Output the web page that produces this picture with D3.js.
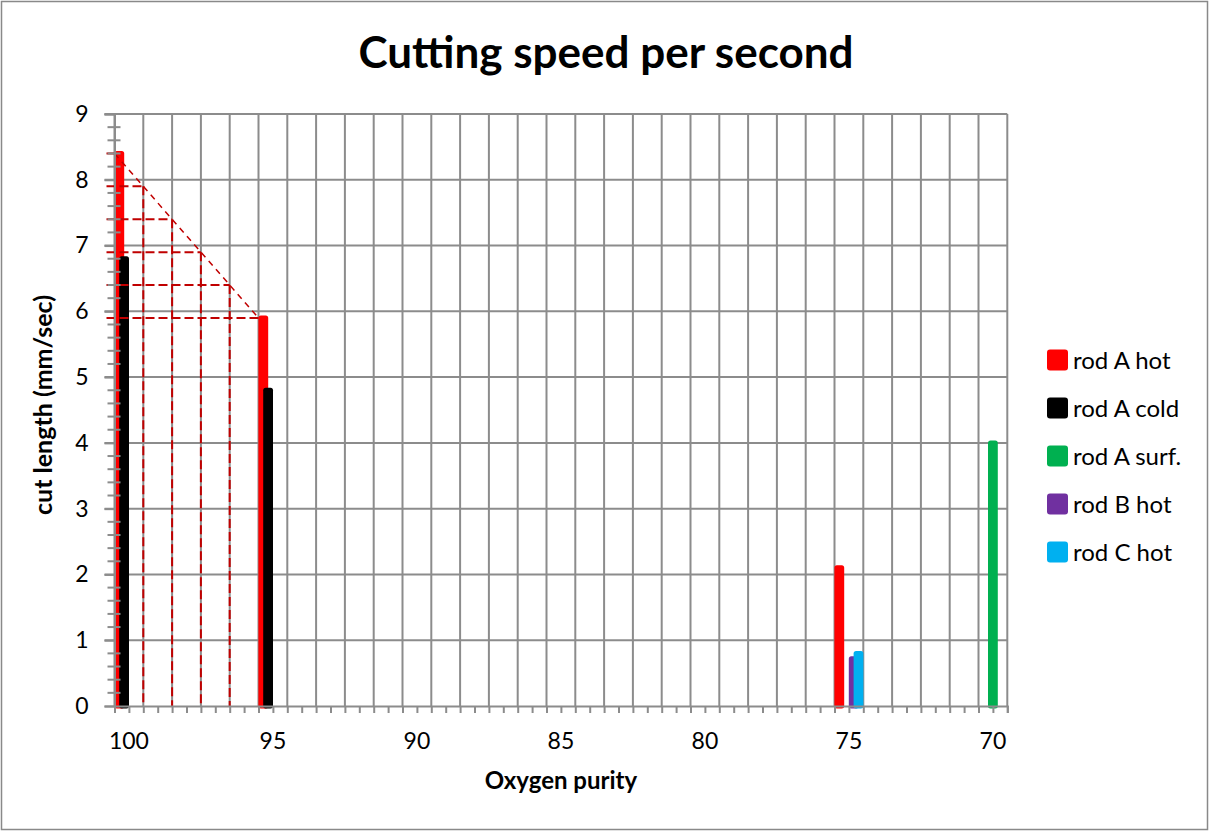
<!DOCTYPE html>
<html>
<head>
<meta charset="utf-8">
<script src="https://cdn.jsdelivr.net/npm/d3@7"></script>
<style>
  html, body { margin: 0; padding: 0; background: #fff; }
  svg { display: block; font-family: Lato, "Open Sans", sans-serif; }
</style>
</head>
<body>
<svg id="chart" width="1210" height="832"></svg>
<script>
// ---------------- data ----------------
const categories = d3.range(100, 69, -1);           // 100, 99, ... 70 (category axis, reversed)
const categoryLabels = [100, 95, 90, 85, 80, 75, 70];
const seriesNames = ["rod A hot", "rod A cold", "rod A surf.", "rod B hot", "rod C hot"];
const seriesColors = ["#FF0000", "#000000", "#00B050", "#7030A0", "#00B0F0"];
const rodAHot  = [{cat: 100, v: 8.4}, {cat: 95, v: 5.9}, {cat: 75, v: 2.1}];
const rodACold = [{cat: 100, v: 6.8}, {cat: 95, v: 4.8}];
const rodASurf = [{cat: 70, v: 4.0}];
const rodBHot  = [{cat: 75, v: 0.72}];
const rodCHot  = [{cat: 75, v: 0.8}];
const seriesValues = [rodAHot, rodACold, rodASurf, rodBHot, rodCHot];
// dashed construction lines (purity vs cut length)
const guideX = [100, 99, 98, 97, 96, 95];
const guideY = [8.4, 7.9, 7.4, 6.9, 6.4, 5.9];
const yTicks = [0, 1, 2, 3, 4, 5, 6, 7, 8, 9];

// ---------------- layout ----------------
const svg = d3.select("#chart");
const X0 = 114.5, X1 = 1007.3, Y0 = 706, Y1 = 114;
const gridColor = "#8C8C8C";

svg.append("rect").attr("x", 1.5).attr("y", 1.5).attr("width", 1206).attr("height", 828)
  .attr("fill", "#fff").attr("stroke", "#898989").attr("stroke-width", 1.5);

const xLin = d3.scaleLinear().domain([100, 69]).range([X0, X1]);
const xBand = d3.scaleBand().domain(categories).range([X0, X1]).paddingInner(0).paddingOuter(0);
const xSub = d3.scaleBand().domain(seriesNames).range([0, xBand.bandwidth()]).paddingInner(0).paddingOuter(0.5);
const y = d3.scaleLinear().domain([0, 9]).range([Y0, Y1]);

// gridlines
const grid = svg.append("g").attr("stroke", gridColor).attr("stroke-width", 2);
grid.selectAll("line.h").data(yTicks.slice(1)).join("line").attr("class", "h")
  .attr("x1", X0 - 10).attr("x2", X1).attr("y1", d => y(d)).attr("y2", d => y(d));
grid.selectAll("line.v").data(d3.range(100, 68.5, -1)).join("line").attr("class", "v")
  .attr("x1", d => xLin(d)).attr("x2", d => xLin(d)).attr("y1", Y1).attr("y2", Y0);

// bars
seriesValues.forEach((vals, i) => {
  const name = seriesNames[i], col = seriesColors[i];
  svg.append("g").selectAll("rect").data(vals).join("rect")
    .attr("x", d => xBand(d.cat) + xSub(name))
    .attr("width", xSub.bandwidth())
    .attr("y", d => y(d.v))
    .attr("height", d => y(0) - y(d.v))
    .attr("fill", col).attr("stroke", col).attr("stroke-width", 5)
    .attr("stroke-linejoin", "round");
});

// dashed construction lines
const gPts = guideX.map((x, i) => ({x, y: guideY[i]}));
const guide = svg.append("g").attr("stroke", "#C00000").attr("fill", "none");
guide.append("path")
  .attr("d", d3.line().x(d => xLin(d.x)).y(d => y(d.y))(gPts))
  .attr("stroke-width", 1.5).attr("stroke-dasharray", "6,5");
guide.selectAll("line.gh").data(gPts).join("line").attr("class", "gh")
  .attr("x1", X0 - 8).attr("x2", d => xLin(d.x)).attr("y1", d => y(d.y)).attr("y2", d => y(d.y))
  .attr("stroke-width", 2).attr("stroke-dasharray", "9,4");
guide.selectAll("line.gv").data(gPts.filter(d => d.x < 100 && d.x > 95)).join("line").attr("class", "gv")
  .attr("x1", d => xLin(d.x)).attr("x2", d => xLin(d.x)).attr("y1", d => y(d.y)).attr("y2", y(0))
  .attr("stroke-width", 2).attr("stroke-dasharray", "9,4");

// y axis
const yAxis = svg.append("g").attr("transform", `translate(${X0},0)`)
  .call(d3.axisLeft(y).tickValues(yTicks).tickSize(10).tickPadding(16).tickFormat(d3.format("d")));
yAxis.select(".domain").attr("stroke", gridColor).attr("stroke-width", 2);
yAxis.selectAll(".tick line").attr("stroke", gridColor).attr("stroke-width", 2);
yAxis.selectAll(".tick text").attr("font-size", 23).attr("fill", "#000")
  .attr("font-family", "Lato, sans-serif");
// minor y ticks (crossing)
svg.append("g").attr("stroke", gridColor).attr("stroke-width", 2)
  .selectAll("line").data(d3.range(0, 45).map(i => i * 0.2).filter((d, i) => i % 5 !== 0)).join("line")
  .attr("x1", X0 - 7).attr("x2", X0 + 6).attr("y1", d => y(d)).attr("y2", d => y(d));

// x axis
const xAxis = svg.append("g").attr("transform", `translate(0,${Y0})`)
  .call(d3.axisBottom(xLin).tickValues(d3.range(100, 68.9, -0.5)).tickSize(7).tickFormat(""));
xAxis.select(".domain").attr("stroke", gridColor).attr("stroke-width", 2);
xAxis.selectAll(".tick line").attr("stroke", gridColor).attr("stroke-width", 2);
svg.append("g").selectAll("text").data(categoryLabels).join("text")
  .attr("x", d => xBand(d) + xBand.bandwidth() / 2).attr("y", 749)
  .attr("text-anchor", "middle").attr("font-size", 23).attr("fill", "#000")
  .text(d => d);

// titles
svg.append("text").attr("x", 606).attr("y", 68).attr("text-anchor", "middle")
  .attr("font-size", 44).attr("font-weight", "bold").text("Cutting speed per second");
svg.append("text").attr("x", 561).attr("y", 789).attr("text-anchor", "middle")
  .attr("font-size", 24).attr("font-weight", "bold").text("Oxygen purity");
svg.append("text").attr("transform", "translate(52,405) rotate(-90)").attr("text-anchor", "middle")
  .attr("font-size", 25).attr("font-weight", "bold").text("cut length (mm/sec)");

// legend
const leg = svg.append("g").selectAll("g").data(seriesNames).join("g")
  .attr("transform", (d, i) => `translate(1047,${360 + i * 48})`);
leg.append("rect").attr("x", 0).attr("y", -10.5).attr("width", 21).attr("height", 21)
  .attr("rx", 3).attr("fill", (d, i) => seriesColors[i]);
leg.append("text").attr("x", 26).attr("y", 8.5).attr("font-size", 24).attr("fill", "#000").text(d => d);
</script>
</body>
</html>
